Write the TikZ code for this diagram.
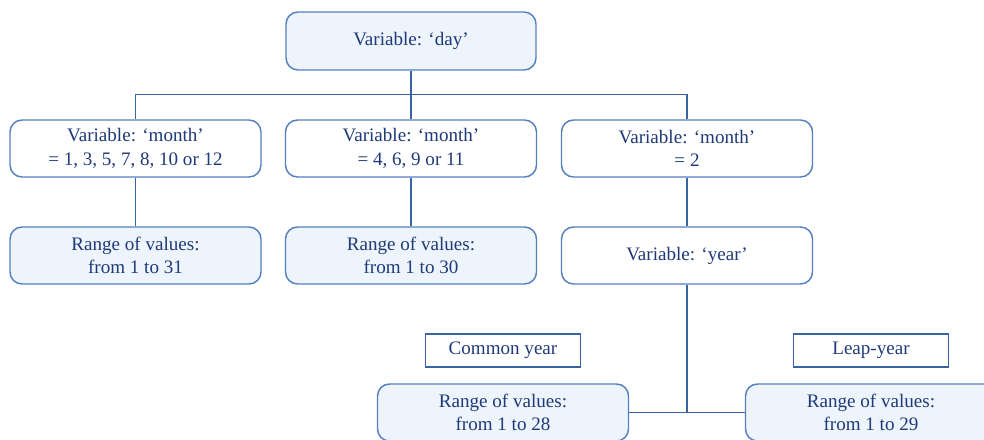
\documentclass[tikz,border=0pt]{standalone}
\usepackage{fontspec}
\setmainfont{Liberation Serif}
\begin{document}
\begin{tikzpicture}[x=0.75pt,y=-0.75pt,
  txt/.style={text=txtblue,font=\fontsize{14.3}{17.5}\selectfont,align=center},
  rbox/.style={txt,draw=boxblue,line width=1.1pt,rounded corners=9pt,minimum width=251*0.75pt,minimum height=57*0.75pt,inner sep=0pt},
  lbox/.style={rbox,fill=lightfill},
  wbox/.style={rbox,fill=white},
  tagbox/.style={txt,draw=lineblue,line width=0.9pt,minimum width=155*0.75pt,minimum height=33*0.75pt,inner sep=0pt},
  conn/.style={draw=lineblue,line width=0.9pt}]
\definecolor{txtblue}{HTML}{1F3A78}
\definecolor{boxblue}{HTML}{5580BF}
\definecolor{lineblue}{HTML}{3A64A0}
\definecolor{lightfill}{HTML}{EEF4FC}
\useasboundingbox (0,0) rectangle (984,439);
\clip (0,0) rectangle (984,439);
% nodes
\node[lbox,minimum width=250*0.75pt,minimum height=58*0.75pt] (day) at (411,41) {Variable: ‘day’};
\node[wbox] (m1) at (135.5,148.5) {Variable: ‘month’\\= 1, 3, 5, 7, 8, 10 or 12};
\node[wbox] (m2) at (411,148.5) {Variable: ‘month’\\= 4, 6, 9 or 11};
\node[wbox] (m3) at (687,148.5) {Variable: ‘month’\\= 2};
\node[lbox] (r31) at (135.5,255.5) {Range of values:\\from 1 to 31};
\node[lbox] (r30) at (411,255.5) {Range of values:\\from 1 to 30};
\node[wbox] (yr) at (687,255.5) {Variable: ‘year’};
\node[tagbox] (common) at (503,350.5) {Common year};
\node[tagbox] (leap) at (871,350.5) {Leap-year};
\node[lbox] (r28) at (503,412.5) {Range of values:\\from 1 to 28};
\node[lbox] (r29) at (871,412.5) {Range of values:\\from 1 to 29};
\coordinate (bus) at (411,94.5);
\coordinate (yj) at (687,413);
% connectors
\draw[conn] (day.south) -- (bus);
\draw[conn] (m1.north) |- (bus) -| (m3.north);
\draw[conn] (bus) -- (m2.north);
\draw[conn] (m1.south) -- (r31.north);
\draw[conn] (m2.south) -- (r30.north);
\draw[conn] (m3.south) -- (yr.north);
\draw[conn] (yr.south) -- (yj);
\draw[conn] (r28.east) -- (r29.west);
\end{tikzpicture}
\end{document}
